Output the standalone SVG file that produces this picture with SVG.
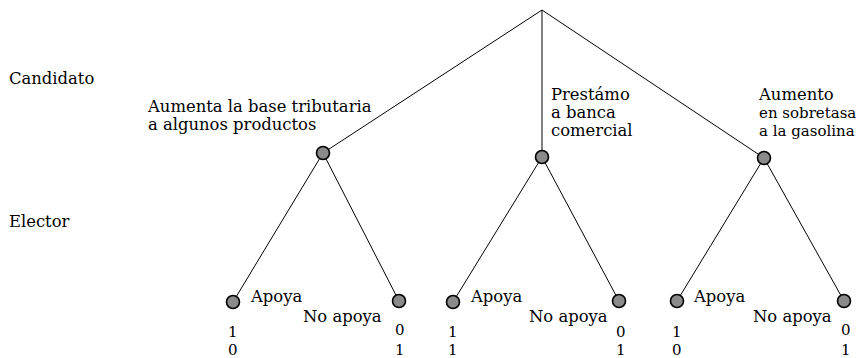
<svg xmlns="http://www.w3.org/2000/svg" width="863" height="358" viewBox="0 0 863 358">
<style>
text{font-family:"DejaVu Serif","Liberation Serif",serif;font-size:16.4px;fill:#000}
.d{font-size:15px}
.s{font-size:15px}
.e{stroke:#000;stroke-width:1;fill:none}
.n{fill:#8a8a8a;stroke:#000;stroke-width:1.6}
</style>
<rect width="863" height="358" fill="#fff"/>
<text x="9" y="84">Candidato</text>
<text x="9" y="227">Elector</text>
<g id="connectors">
<line class="e" x1="542" y1="10" x2="323" y2="153"/>
<line class="e" x1="542" y1="10" x2="542" y2="157"/>
<line class="e" x1="542" y1="10" x2="764" y2="158"/>
<line class="e" x1="323" y1="153" x2="233" y2="302"/>
<line class="e" x1="323" y1="153" x2="399" y2="301"/>
<line class="e" x1="542" y1="157" x2="453" y2="302"/>
<line class="e" x1="542" y1="157" x2="619" y2="301"/>
<line class="e" x1="764" y1="158" x2="677" y2="301"/>
<line class="e" x1="764" y1="158" x2="844" y2="301"/>
</g>
<g id="n1"><circle class="n" cx="323" cy="153" r="6.5"/><text x="148" y="112">Aumenta la base tributaria</text><text x="148" y="130">a algunos productos</text></g>
<g id="n2"><circle class="n" cx="542" cy="157" r="6.5"/><text x="551" y="100">Prestámo</text><text x="551" y="118">a banca</text><text x="551" y="136">comercial</text></g>
<g id="n3"><circle class="n" cx="764" cy="158" r="6.5"/><text x="759" y="100">Aumento</text><text class="s" x="759" y="118">en sobretasa</text><text class="s" x="759" y="136">a la gasolina</text></g>
<g id="l1"><circle class="n" cx="233" cy="302" r="6.5"/><text x="251" y="302">Apoya</text><text class="d" x="228" y="337">1</text><text class="d" x="228" y="355">0</text></g>
<g id="l2"><circle class="n" cx="399" cy="301" r="6.5"/><text x="303" y="322">No apoya</text><text class="d" x="395" y="335">0</text><text class="d" x="395" y="355">1</text></g>
<g id="l3"><circle class="n" cx="453" cy="302" r="6.5"/><text x="471" y="302">Apoya</text><text class="d" x="448" y="337">1</text><text class="d" x="448" y="355">1</text></g>
<g id="l4"><circle class="n" cx="619" cy="301" r="6.5"/><text x="529" y="322">No apoya</text><text class="d" x="616" y="337">0</text><text class="d" x="616" y="355">1</text></g>
<g id="l5"><circle class="n" cx="677" cy="301" r="6.5"/><text x="694" y="302">Apoya</text><text class="d" x="672" y="337">1</text><text class="d" x="672" y="355">0</text></g>
<g id="l6"><circle class="n" cx="844" cy="301" r="6.5"/><text x="753" y="322">No apoya</text><text class="d" x="841" y="335">0</text><text class="d" x="841" y="355">1</text></g>
</svg>
